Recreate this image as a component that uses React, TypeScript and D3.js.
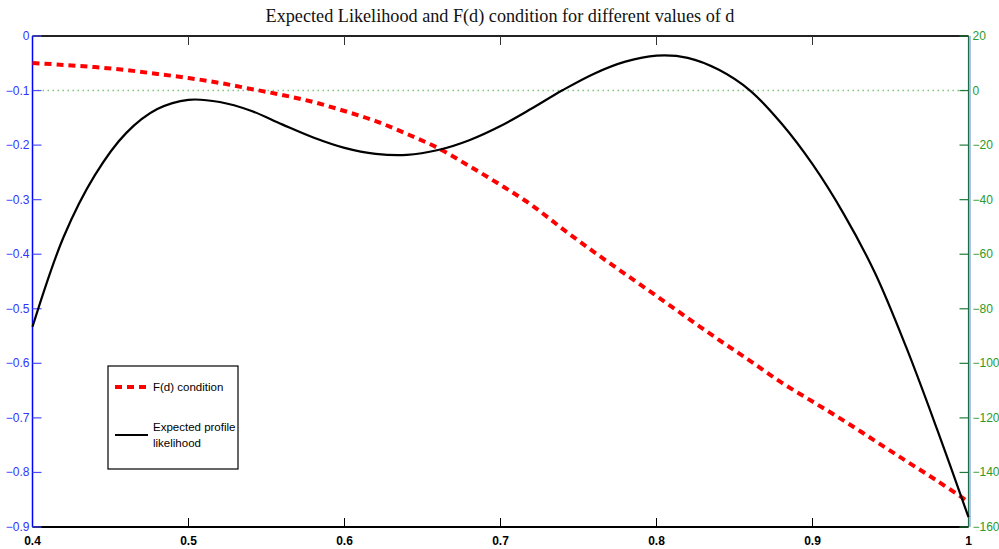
import React, { useEffect, useRef } from "react";
import * as d3 from "d3";

// d values on the x axis (sampled every 0.02)
const dValues = [
  0.40, 0.42, 0.44, 0.46, 0.48, 0.50, 0.52, 0.54, 0.56, 0.58,
  0.60, 0.62, 0.64, 0.66, 0.68, 0.70, 0.72, 0.74, 0.76, 0.78,
  0.80, 0.82, 0.84, 0.86, 0.88, 0.90, 0.92, 0.94, 0.96, 0.98, 1.00,
];

// expected profile likelihood (left axis)
const likelihood = [
  -0.533, -0.368, -0.255, -0.178, -0.134, -0.117, -0.121, -0.137, -0.162, -0.186,
  -0.205, -0.216, -0.218, -0.209, -0.191, -0.165, -0.133, -0.099, -0.069, -0.047,
  -0.036, -0.040, -0.062, -0.100, -0.160, -0.235, -0.326, -0.434, -0.570, -0.722, -0.882,
];

// F(d) condition (right axis)
const fdCondition = [
  10.1, 9.4, 8.6, 7.5, 6.1, 4.6, 2.8, 0.6, -1.6, -4.2,
  -7.5, -11.2, -15.9, -21.1, -27.7, -34.6, -42.0, -50.8, -59.2, -67.3,
  -75.3, -83.4, -91.4, -99.1, -107.0, -114.0, -121.0, -128.4, -135.8, -143.1, -150.8,
];

const xTicks = [0.4, 0.5, 0.6, 0.7, 0.8, 0.9, 1];
const leftTicks = [0, -0.1, -0.2, -0.3, -0.4, -0.5, -0.6, -0.7, -0.8, -0.9];
const rightTicks = [20, 0, -20, -40, -60, -80, -100, -120, -140, -160];

const fmt = (v: number) => (v < 0 ? "\u2212" + String(-v) : String(v));

export default function App() {
  const ref = useRef<SVGSVGElement>(null);

  useEffect(() => {
    document.body.style.margin = "0";
    const width = 999;
    const height = 549;
    const m = { top: 36, right: 30.5, bottom: 22, left: 32.5 };
    const font = "'Liberation Sans Narrow', 'Liberation Sans', Arial, sans-serif";

    d3.select(ref.current).selectAll("*").remove();
    const svg = d3.select(ref.current).attr("width", width).attr("height", height);
    svg.append("rect").attr("width", width).attr("height", height).attr("fill", "#fff");

    const x = d3.scaleLinear().domain([0.4, 1]).range([m.left, width - m.right]);
    const yL = d3.scaleLinear().domain([-0.9, 0]).range([height - m.bottom, m.top]);
    const yR = d3.scaleLinear().domain([-160, 20]).range([height - m.bottom, m.top]);

    // green zero line of the right axis
    svg.append("line")
      .attr("x1", x(0.4)).attr("x2", x(1))
      .attr("y1", yR(0)).attr("y2", yR(0))
      .attr("stroke", "#7fc27f").attr("stroke-width", 1.5)
      .attr("stroke-dasharray", "1.5,3.5");

    // top and bottom frame + x ticks
    svg.append("line").attr("x1", x(0.4)).attr("x2", x(1)).attr("y1", m.top).attr("y2", m.top)
      .attr("stroke", "#222").attr("stroke-width", 2);
    svg.append("line").attr("x1", x(0.4)).attr("x2", x(1))
      .attr("y1", height - m.bottom).attr("y2", height - m.bottom)
      .attr("stroke", "#000").attr("stroke-width", 2);

    xTicks.forEach(t => {
      svg.append("line").attr("x1", x(t)).attr("x2", x(t))
        .attr("y1", m.top).attr("y2", m.top + 9).attr("stroke", "#333").attr("stroke-width", 1);
      svg.append("line").attr("x1", x(t)).attr("x2", x(t))
        .attr("y1", height - m.bottom).attr("y2", height - m.bottom - 9)
        .attr("stroke", "#000").attr("stroke-width", 1);
      svg.append("text").attr("x", x(t)).attr("y", height - m.bottom + 18)
        .attr("text-anchor", "middle").attr("font-family", font)
        .attr("font-weight", "bold").attr("font-size", 12).attr("fill", "#000")
        .text(String(t));
    });

    // left axis
    svg.append("line").attr("x1", m.left).attr("x2", m.left)
      .attr("y1", m.top).attr("y2", height - m.bottom)
      .attr("stroke", "#0000ff").attr("stroke-width", 1.5);
    leftTicks.forEach(t => {
      svg.append("line").attr("x1", m.left).attr("x2", m.left + 9)
        .attr("y1", yL(t)).attr("y2", yL(t)).attr("stroke", "#4d4dff").attr("stroke-width", 1.2);
      svg.append("text").attr("x", m.left - 3).attr("y", yL(t) + 4)
        .attr("text-anchor", "end").attr("font-family", font).attr("font-size", 12)
        .attr("fill", "#3333ff").text(fmt(t));
    });

    // right axis
    const rx = width - m.right;
    svg.append("line").attr("x1", rx + 1.5).attr("x2", rx + 1.5)
      .attr("y1", m.top).attr("y2", height - m.bottom)
      .attr("stroke", "#8fb0dc").attr("stroke-width", 1.5);
    svg.append("line").attr("x1", rx).attr("x2", rx)
      .attr("y1", m.top).attr("y2", height - m.bottom)
      .attr("stroke", "#1f6a4a").attr("stroke-width", 1.2);
    rightTicks.forEach(t => {
      svg.append("line").attr("x1", rx).attr("x2", rx - 9)
        .attr("y1", yR(t)).attr("y2", yR(t)).attr("stroke", "#1f7a3a").attr("stroke-width", 1.2);
      svg.append("text").attr("x", rx + 4).attr("y", yR(t) + 4)
        .attr("text-anchor", "start").attr("font-family", font).attr("font-size", 12)
        .attr("fill", "#2a9a2a").text(fmt(t));
    });

    // curves
    const fdLine = d3.line<number>()
      .x((_, i) => x(dValues[i]))
      .y(d => yR(d))
      .curve(d3.curveCatmullRom);
    svg.append("path").datum(fdCondition).attr("d", fdLine)
      .attr("fill", "none").attr("stroke", "#ff0000").attr("stroke-width", 4)
      .attr("stroke-dasharray", "7,5");

    const likLine = d3.line<number>()
      .x((_, i) => x(dValues[i]))
      .y(d => yL(d))
      .curve(d3.curveCatmullRom);
    svg.append("path").datum(likelihood).attr("d", likLine)
      .attr("fill", "none").attr("stroke", "#000").attr("stroke-width", 2.2);

    // title
    svg.append("text").attr("x", 500).attr("y", 22).attr("text-anchor", "middle")
      .attr("font-family", "'Liberation Serif', 'DejaVu Serif', serif").attr("font-size", 18.2)
      .attr("fill", "#111").text("Expected Likelihood and F(d) condition for different values of d");

    // legend
    const lg = svg.append("g").attr("transform", "translate(108,366)");
    lg.append("rect").attr("width", 130).attr("height", 103)
      .attr("fill", "#fff").attr("stroke", "#000").attr("stroke-width", 1.2);
    lg.append("line").attr("x1", 7).attr("x2", 38).attr("y1", 21).attr("y2", 21)
      .attr("stroke", "#ff0000").attr("stroke-width", 4).attr("stroke-dasharray", "7,5");
    lg.append("text").attr("x", 45).attr("y", 25).attr("font-family", font)
      .attr("font-size", 11.5).attr("fill", "#000").text("F(d) condition");
    lg.append("line").attr("x1", 7).attr("x2", 40).attr("y1", 69).attr("y2", 69)
      .attr("stroke", "#000").attr("stroke-width", 2.2);
    lg.append("text").attr("x", 45).attr("y", 65).attr("font-family", font)
      .attr("font-size", 11.5).attr("fill", "#000").text("Expected profile");
    lg.append("text").attr("x", 45).attr("y", 81).attr("font-family", font)
      .attr("font-size", 11.5).attr("fill", "#000").text("likelihood");
  }, []);

  return <svg ref={ref} style={{ display: "block" }}></svg>;
}
